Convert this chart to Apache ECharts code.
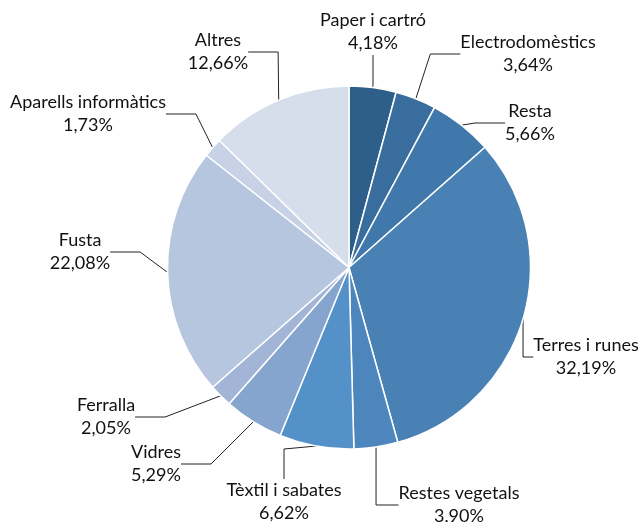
<!DOCTYPE html>
<html><head><meta charset="utf-8">
<script src="https://cdn.jsdelivr.net/npm/echarts@6/dist/echarts.min.js"></script>
<style>html,body{margin:0;padding:0;background:#fff}#c{width:644px;height:522px}</style>
</head><body><div id="c"></div>
<script>
var categories = ['Paper i cartró','Electrodomèstics','Resta','Terres i runes','Restes vegetals','Tèxtil i sabates','Vidres','Ferralla','Fusta','Aparells informàtics','Altres'];
var values = [4.18,3.64,5.66,32.19,3.90,6.62,5.29,2.05,22.08,1.73,12.66];
var colors = ['#2E5F8A','#386D9D','#4178AB','#4A81B4','#4D86BD','#5591C9','#86A5CE','#A3B5D7','#B6C6DF','#C7D2E6','#D6DEEB'];
var labelPos = [[373,32],[528,54],[530,123],[586,357],[459,505],[284,502],[156,464],[106,417],[80,252],[88,114],[218,52]];

var chart = echarts.init(document.getElementById('c'));
chart.setOption({
  animation:false,
  series:[{
    type:'pie',
    center:[349,267.5],
    radius:[0,181.5],
    startAngle:90,
    clockwise:true,
    data: categories.map(function(n,i){return {name:n,value:values[i],itemStyle:{color:colors[i]}};}),
    itemStyle:{borderColor:'#fff',borderWidth:1.5},
    label:{
      show:true,
      overflow:'none',
      formatter:function(p){return p.name+'\n'+p.value.toFixed(2).replace('.',',')+'%';},
      fontFamily:'Lato',fontSize:18,color:'#111',lineHeight:23,align:'center'
    },
    labelLine:{show:true,lineStyle:{color:'#222',width:1}},
    labelLayout:function(p){
      var pos = labelPos[p.dataIndex];
      return {x:pos[0],y:pos[1],align:'center',verticalAlign:'middle'};
    }
  }]
});
</script></body></html>
